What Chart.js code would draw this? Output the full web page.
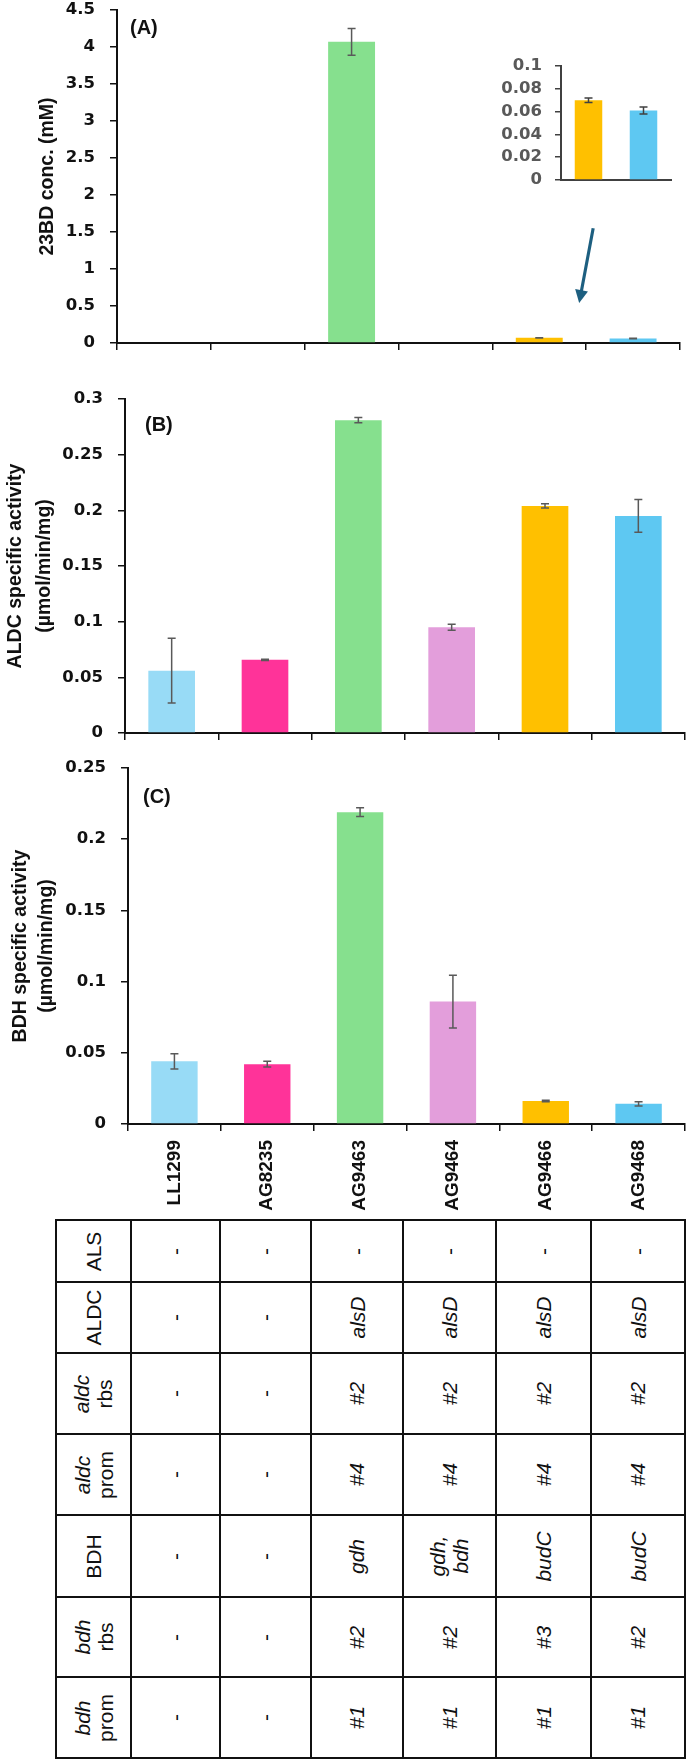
<!DOCTYPE html>
<html><head><meta charset="utf-8">
<script src="https://cdn.jsdelivr.net/npm/chart.js@4.4.1/dist/chart.umd.min.js"></script>
<style>
html,body{margin:0;padding:0;background:#fff;}
body{width:687px;height:1764px;position:relative;overflow:hidden;}
canvas{position:absolute;}
#tbl{position:absolute;left:55px;top:1219px;display:grid;
  grid-template-columns:75px 89px 91px 92px 93px 95px 94px;
  grid-template-rows:62px 71px 81px 81px 82px 80px 81px;
  border-left:2px solid #111;border-top:2px solid #111;background:#fff;
  font-family:'Liberation Sans',Arial,sans-serif;font-size:21px;color:#111;}
.cell{box-sizing:border-box;border-right:2px solid #111;border-bottom:2px solid #111;display:flex;align-items:center;justify-content:center;overflow:visible;}
.rot{transform:rotate(-90deg);white-space:nowrap;text-align:center;line-height:23px;}
.it{font-style:italic;}
</style></head>
<body>
<canvas id="cA" width="687" height="360" style="left:0;top:0"></canvas>
<canvas id="cIn" width="210" height="150" style="left:470px;top:40px"></canvas>
<canvas id="cB" width="687" height="380" style="left:0;top:370px"></canvas>
<canvas id="cC" width="687" height="480" style="left:0;top:740px"></canvas>
<div id="tbl"></div>
<script>
// ---------- data ----------
const strains = ['LL1299','AG8235','AG9463','AG9464','AG9466','AG9468'];
const barColors = ['#98DBF6','#FF3399','#86E08E','#E39EDB','#FFC000','#5EC8F2'];
const conc23BD = [0, 0, 4.07, 0, 0.070, 0.061];
const conc23BDErr = [0, 0, 0.18, 0, 0.002, 0.003];
const insetStrains = ['AG9466','AG9468'];
const insetColors = ['#FFC000','#5EC8F2'];
const insetConc = [0.070, 0.061];
const insetErr = [0.002, 0.003];
const aldcAct = [0.056, 0.0657, 0.281, 0.095, 0.204, 0.195];
const aldcErr = [0.029, 0.0005, 0.0023, 0.0027, 0.002, 0.0147];
const bdhAct = [0.044, 0.042, 0.219, 0.086, 0.0161, 0.0142];
const bdhErr = [0.0053, 0.002, 0.003, 0.0185, 0.0005, 0.0015];

const rowHeads = [['ALS'],['ALDC'],['aldc','rbs'],['aldc','prom'],['BDH'],['bdh','rbs'],['bdh','prom']];
const rowHeadItalicFirst = [false,false,true,true,false,true,true];
const rowALS      = ['-','-','-','-','-','-'];
const rowALDC     = ['-','-','alsD','alsD','alsD','alsD'];
const rowAldcRbs  = ['-','-','#2','#2','#2','#2'];
const rowAldcProm = ['-','-','#4','#4','#4','#4'];
const rowBDH      = ['-','-','gdh',['gdh,','bdh'],'budC','budC'];
const rowBdhRbs   = ['-','-','#2','#2','#3','#2'];
const rowBdhProm  = ['-','-','#1','#1','#1','#1'];
const tableRows = [rowALS,rowALDC,rowAldcRbs,rowAldcProm,rowBDH,rowBdhRbs,rowBdhProm];

// ---------- table ----------
const tbl = document.getElementById('tbl');
tableRows.forEach((row, r) => {
  const h = document.createElement('div'); h.className = 'cell';
  const hs = document.createElement('div'); hs.className = 'rot';
  rowHeads[r].forEach((t, k) => {
    if (k) hs.appendChild(document.createElement('br'));
    const s = document.createElement('span'); s.textContent = t;
    if (k === 0 && rowHeadItalicFirst[r]) s.className = 'it';
    hs.appendChild(s);
  });
  h.appendChild(hs); tbl.appendChild(h);
  row.forEach(v => {
    const c = document.createElement('div'); c.className = 'cell';
    const s = document.createElement('div'); s.className = 'rot' + (v === '-' ? '' : ' it');
    (Array.isArray(v) ? v : [v]).forEach((t, k) => {
      if (k) s.appendChild(document.createElement('br'));
      s.appendChild(document.createTextNode(t));
    });
    c.appendChild(s); tbl.appendChild(c);
  });
});

// ---------- plugins ----------
const errorBars = {
  id: 'errorBars',
  afterDatasetsDraw(chart, args, opts) {
    const errs = opts.errors; if (!errs) return;
    const meta = chart.getDatasetMeta(0);
    const y = chart.scales.y, ctx = chart.ctx;
    const vals = chart.data.datasets[0].data;
    ctx.save();
    ctx.strokeStyle = opts.color || '#595959';
    ctx.lineWidth = opts.width || 1.5;
    const c = opts.cap || 4;
    meta.data.forEach((bar, i) => {
      const e = errs[i]; if (!e) return;
      const x = bar.x;
      const yt = y.getPixelForValue(vals[i] + e), yb = y.getPixelForValue(vals[i] - e);
      ctx.beginPath();
      ctx.moveTo(x, yt); ctx.lineTo(x, yb);
      ctx.moveTo(x - c, yt); ctx.lineTo(x + c, yt);
      ctx.moveTo(x - c, yb); ctx.lineTo(x + c, yb);
      ctx.stroke();
    });
    ctx.restore();
  }
};
const panelLabel = {
  id: 'panelLabel',
  afterDraw(chart, args, opts) {
    if (!opts.text) return;
    const {ctx, chartArea} = chart;
    ctx.save();
    ctx.font = 'bold 20px "Liberation Sans"';
    ctx.fillStyle = '#111';
    ctx.textBaseline = 'alphabetic';
    ctx.fillText(opts.text, chartArea.left + opts.dx, chartArea.top + opts.dy);
    ctx.restore();
  }
};
const arrowPlugin = {
  id: 'arrowNote',
  afterDraw(chart, args, opts) {
    if (opts.at === undefined) return;
    const {ctx} = chart, xs = chart.scales.x, ys = chart.scales.y;
    const xb = xs.getPixelForValue(opts.at);
    const x0 = xb + opts.dxStart, y0 = ys.getPixelForValue(opts.fromVal);
    const x1 = xb + opts.dxEnd, y1 = ys.getPixelForValue(opts.toVal);
    const ang = Math.atan2(y1 - y0, x1 - x0);
    const hl = 13, hw = 6.5;
    ctx.save();
    ctx.strokeStyle = ctx.fillStyle = opts.color;
    ctx.lineWidth = 3.2;
    ctx.beginPath();
    ctx.moveTo(x0, y0);
    ctx.lineTo(x1 - Math.cos(ang) * hl * 0.8, y1 - Math.sin(ang) * hl * 0.8);
    ctx.stroke();
    ctx.beginPath();
    ctx.moveTo(x1, y1);
    ctx.lineTo(x1 - Math.cos(ang) * hl - Math.sin(ang) * hw, y1 - Math.sin(ang) * hl + Math.cos(ang) * hw);
    ctx.lineTo(x1 - Math.cos(ang) * hl + Math.sin(ang) * hw, y1 - Math.sin(ang) * hl - Math.cos(ang) * hw);
    ctx.closePath(); ctx.fill();
    ctx.restore();
  }
};
Chart.register(errorBars, panelLabel, arrowPlugin);

const fmt = v => String(+Number(v).toFixed(3));
const tickFont = {family: 'DejaVu Sans', weight: 'bold', size: 16.5};
const titleFont = (lh) => ({family: 'Liberation Sans', weight: 'bold', size: 19.5, lineHeight: lh});

function yAxis(max, step, title, titlePad, lh, width) {
  return {
    min: 0, max: max,
    ticks: {stepSize: step, color: '#111', font: tickFont, padding: 15, callback: fmt},
    grid: {drawOnChartArea: false, drawTicks: true, tickLength: 7, color: '#111', lineWidth: 1.5},
    border: {display: true, color: '#111', width: 2},
    title: {display: true, text: title, color: '#111', font: titleFont(lh), padding: {top: titlePad, bottom: 0}},
    afterFit(s) { s.width = width; s.paddingTop = 0; s.paddingBottom = 0; }
  };
}
function xAxis(height, showLabels) {
  return {
    offset: true,
    grid: {offset: true, drawOnChartArea: false, drawTicks: true, tickLength: 7, color: '#111', lineWidth: 1.5},
    border: {display: true, color: '#111', width: 2},
    ticks: showLabels ? {display: true, autoSkip: false, minRotation: 90, maxRotation: 90, padding: 9, color: '#111',
                         font: {family: 'Liberation Sans', weight: 'bold', size: 19}} : {display: false},
    afterFit(s) { s.height = height; s.paddingLeft = 0; s.paddingRight = 0; }
  };
}
function barData(vals) {
  return {labels: strains, datasets: [{data: vals, backgroundColor: barColors, categoryPercentage: 1, barPercentage: 0.5}]};
}
function baseOpts(pad, plugins, scales) {
  return {
    responsive: false, animation: false, events: [],
    layout: {padding: pad},
    plugins: Object.assign({legend: {display: false}, tooltip: {enabled: false}}, plugins),
    scales: scales
  };
}

// Panel A
new Chart(document.getElementById('cA'), {
  type: 'bar', data: barData(conc23BD),
  options: baseOpts({top: 10, right: 7, left: 0, bottom: 0},
    {errorBars: {errors: conc23BDErr}, panelLabel: {text: '(A)', dx: 13, dy: 24},
     arrowNote: {at: 4.5, dxStart: 7, dxEnd: -7, fromVal: 1.55, toVal: 0.54, color: '#1d5f80'}},
    {x: xAxis(17, false), y: yAxis(4.5, 0.5, '23BD conc. (mM)', 33, 1.5, 117)})
});

// Inset
new Chart(document.getElementById('cIn'), {
  type: 'bar',
  data: {labels: insetStrains, datasets: [{data: insetConc, backgroundColor: insetColors, categoryPercentage: 1, barPercentage: 0.5}]},
  options: baseOpts({top: 26, right: 9, left: 0, bottom: 0},
    {errorBars: {errors: insetErr, color: '#404040'}},
    {x: {grid: {display: false}, border: {display: true, color: '#404040', width: 2}, ticks: {display: false},
         afterFit(s) { s.height = 10; s.paddingLeft = 0; s.paddingRight = 0; }},
     y: {min: 0, max: 0.1,
         ticks: {stepSize: 0.02, color: '#595959', font: tickFont, padding: 13, callback: fmt},
         grid: {drawOnChartArea: false, drawTicks: true, tickLength: 6, color: '#404040', lineWidth: 1.5},
         border: {display: true, color: '#404040', width: 2},
         afterFit(s) { s.width = 91; s.paddingTop = 0; s.paddingBottom = 0; }}})
});

// Panel B
new Chart(document.getElementById('cB'), {
  type: 'bar', data: barData(aldcAct),
  options: baseOpts({top: 29, right: 2, left: 0, bottom: 0},
    {errorBars: {errors: aldcErr}, panelLabel: {text: '(B)', dx: 20, dy: 32}},
    {x: xAxis(17, false), y: yAxis(0.3, 0.05, ['ALDC specific activity', '(µmol/min/mg)'], 1, 1.5, 125)})
});

// Panel C
new Chart(document.getElementById('cC'), {
  type: 'bar', data: barData(bdhAct),
  options: baseOpts({top: 28, right: 2, left: 0, bottom: 0},
    {errorBars: {errors: bdhErr}, panelLabel: {text: '(C)', dx: 15, dy: 35}},
    {x: xAxis(96, true), y: yAxis(0.25, 0.05, ['BDH specific activity', '(µmol/min/mg)'], 7, 1.35, 128)})
});
</script>
</body></html>
